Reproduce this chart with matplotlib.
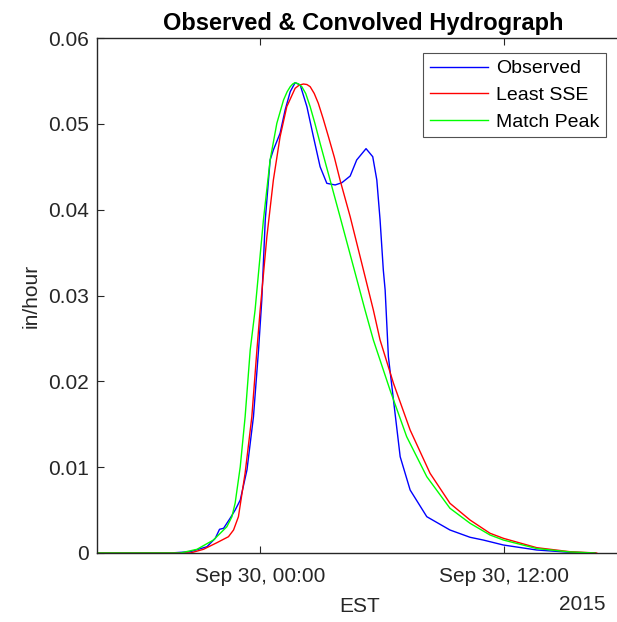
import numpy as np
import matplotlib
matplotlib.use("Agg")
import matplotlib.pyplot as plt
import matplotlib.dates as mdates

plt.rcParams['font.family'] = ['Liberation Sans', 'DejaVu Sans']

# hours relative to Sep 30 2015 00:00 EST
obs_hours = [-8.03, -4.43, -3.44, -2.62, -2.21, -2.00, -1.80, -1.48, -1.23, -0.98, -0.65, -0.33,
             -0.08, 0.08, 0.25, 0.49, 0.65, 0.98, 1.23, 1.48, 1.72, 1.97, 2.30, 2.62, 2.95, 3.28,
             3.69, 4.02, 4.43, 4.75, 5.21, 5.54, 5.74, 5.90, 6.06, 6.15, 6.31, 6.56, 6.89, 7.38,
             8.20, 9.34, 10.33, 10.98, 11.97, 13.61, 15.25, 16.48]
obs_vals = [0, 0, 0.00015, 0.00073, 0.00171, 0.00276, 0.00288, 0.00404, 0.00501, 0.00617, 0.00967,
            0.01588, 0.02365, 0.02948, 0.0388, 0.04579, 0.04696, 0.0489, 0.05163, 0.05375, 0.0548,
            0.05453, 0.0520, 0.0485, 0.0450, 0.04307, 0.04288, 0.04314, 0.04392, 0.04579, 0.04711,
            0.04617, 0.04346, 0.03883, 0.03297, 0.03064, 0.02287, 0.01783, 0.01122, 0.00734,
            0.00423, 0.00268, 0.00183, 0.00151, 0.00093, 0.00035, 0.00008, 0]

sse_hours = [-8.03, -3.44, -2.79, -2.13, -1.56, -1.31, -1.07, -0.74, -0.41, -0.16, 0.0, 0.33, 0.65,
             0.98, 1.31, 1.72, 1.92, 2.13, 2.30, 2.46, 2.66, 2.86, 3.10, 3.36, 3.65, 3.93, 4.43,
             5.00, 5.57, 5.90, 6.56, 7.38, 8.36, 9.34, 10.33, 11.31, 11.97, 13.61, 15.25, 16.56]
sse_vals = [0, 0, 0.00043, 0.0012, 0.0019, 0.00268, 0.00423, 0.00932, 0.01588, 0.02365, 0.02831,
            0.03685, 0.04346, 0.0485, 0.0520, 0.05414, 0.05451, 0.05464, 0.05458, 0.05433, 0.05354,
            0.0524, 0.0506, 0.0485, 0.0461, 0.04346, 0.03918, 0.03375, 0.02831, 0.02482, 0.01977,
            0.01433, 0.00929, 0.00579, 0.00384, 0.0023, 0.00171, 0.00062, 0.00015, 0]

peak_hours = [-8.03, -3.93, -3.11, -2.30, -1.64, -1.39, -1.23, -0.98, -0.74, -0.49, -0.25, 0.16,
              0.49, 0.82, 1.15, 1.33, 1.48, 1.60, 1.72, 1.89, 2.05, 2.24, 2.46, 2.70, 2.95, 3.44,
              3.93, 4.59, 5.16, 5.57, 6.39, 7.21, 8.20, 9.34, 10.33, 11.31, 11.97, 13.61, 15.25,
              16.48]
peak_vals = [0, 0, 0.00043, 0.00151, 0.00306, 0.00423, 0.00583, 0.01005, 0.01588, 0.02365, 0.02831,
             0.0388, 0.04579, 0.05006, 0.05278, 0.05375, 0.05433, 0.05464, 0.0548, 0.05464, 0.05433,
             0.05354, 0.0520, 0.0500, 0.04773, 0.04346, 0.03918, 0.03336, 0.02831, 0.02482, 0.01899,
             0.01355, 0.00889, 0.00521, 0.00346, 0.0021, 0.00151, 0.00052, 0.00012, 0]

series_names = ['Observed', 'Least SSE', 'Match Peak']
y_ticks = [0, 0.01, 0.02, 0.03, 0.04, 0.05, 0.06]
y_tick_labels = ['0', '0.01', '0.02', '0.03', '0.04', '0.05', '0.06']
x_tick_hours = [0, 12]
x_limits_hours = [-8.03, 18.2]

base = np.datetime64('2015-09-30T00:00')
def to_time(h):
    return base + (np.array(h) * 3600).astype('timedelta64[s]')

W, H = 617, 622
fig = plt.figure(figsize=(W / 100, H / 100), dpi=100)
left, right, top, bottom = 97, 630, 38, 553
ax = fig.add_axes([left / W, 1 - bottom / H, (right - left) / W, (bottom - top) / H])

ax.plot(to_time(obs_hours), obs_vals, color=(0, 0, 1), lw=1.0, label=series_names[0])
ax.plot(to_time(sse_hours), sse_vals, color=(1, 0, 0), lw=1.0, label=series_names[1])
ax.plot(to_time(peak_hours), peak_vals, color=(0, 1, 0), lw=1.0, label=series_names[2])

ax.set_xlim(to_time(x_limits_hours))
ax.set_ylim(0, 0.06)
ax.set_yticks(y_ticks)
ax.set_yticklabels(y_tick_labels)
ax.set_xticks(to_time(x_tick_hours))
ax.xaxis.set_major_formatter(mdates.DateFormatter('%b %d, %H:%M'))

dark = (0.15, 0.15, 0.15)
for s in ax.spines.values():
    s.set_color(dark)
    s.set_linewidth(1.0)
ax.tick_params(direction='in', length=5, width=0.8, colors=dark, labelsize=15,
               top=True, right=True)
ax.tick_params(axis='y', pad=6)
ax.tick_params(axis='x', pad=10)

ax.set_title('Observed & Convolved Hydrograph', fontsize=17, fontweight='bold', pad=6)
ax.set_ylabel('in/hour', fontsize=15, color=dark, labelpad=5)
fig.text(360 / W, 1 - 607 / H, 'EST', fontsize=15, color=dark, ha='center', va='center')
fig.text(606 / W, 1 - 605 / H, '2015', fontsize=15, color=dark, ha='right', va='center')

leg = ax.legend(loc='upper right', bbox_to_anchor=(606 / W, 1 - 53 / H),
                bbox_transform=fig.transFigure, fontsize=14, frameon=True, fancybox=False,
                edgecolor=dark, handlelength=3.0, handletextpad=0.4, borderpad=0.35,
                labelspacing=0.46, borderaxespad=0)
leg.get_frame().set_linewidth(0.8)

fig.savefig('out.png', dpi=100)
